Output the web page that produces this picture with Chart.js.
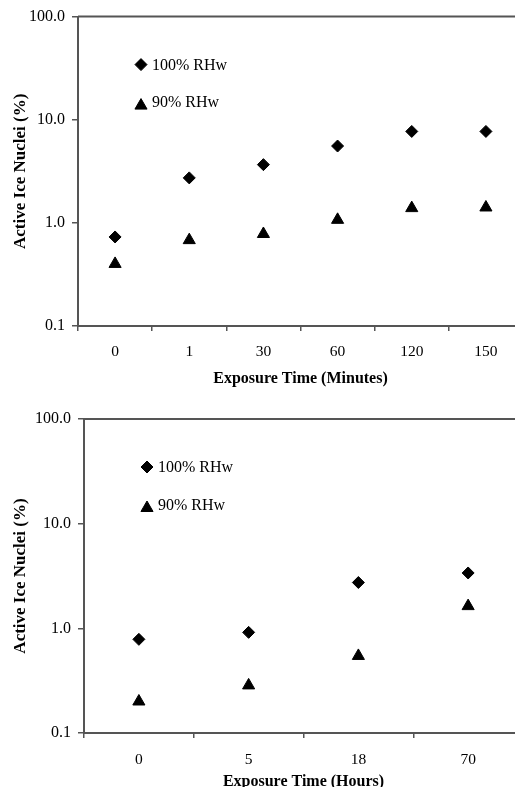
<!DOCTYPE html>
<html>
<head>
<meta charset="utf-8">
<script src="https://cdn.jsdelivr.net/npm/chart.js@4/dist/chart.umd.min.js"></script>
<style>
  html, body { margin: 0; padding: 0; background: #fff; overflow: hidden; width: 515px; height: 787px; }
  .box { position: absolute; left: 0; width: 523px; height: 395px; }
  canvas { display: block; }
</style>
</head>
<body>
<div class="box" style="top:0"><canvas id="minChart" width="523" height="395" style="width:523px;height:395px"></canvas></div>
<div class="box" style="top:400px"><canvas id="hourChart" width="523" height="395" style="width:523px;height:395px"></canvas></div>
<script>
// Data
var minuteLabels = ['0', '1', '30', '60', '120', '150'];
var minute100    = [0.73, 2.73, 3.67, 5.56, 7.7, 7.7];
var minute90     = [0.40, 0.68, 0.78, 1.07, 1.39, 1.41];

var hourLabels = ['0', '5', '18', '70'];
var hour100    = [0.785, 0.915, 2.74, 3.38];
var hour90     = [0.20, 0.285, 0.545, 1.63];

var seriesNames = ['100% RHw', '90% RHw'];
var yTicks      = [0.1, 1, 10, 100];

var FONT = "'Liberation Serif', 'Times New Roman', serif";
var axisColor = '#555';

// ── frame (top/right edge) + in-plot legend ───────
var framePlugin = {
  id: 'frame',
  afterDraw: function(chart) {
    var ctx = chart.ctx, a = chart.chartArea;
    ctx.save();
    ctx.strokeStyle = axisColor;
    ctx.lineWidth = 2;
    ctx.beginPath();
    ctx.moveTo(a.left, a.top);
    ctx.lineTo(a.right, a.top);
    ctx.lineTo(a.right, a.bottom);
    ctx.stroke();

    var rows = [{ dy: 48, tdy: 1 }, { dy: 89, tdy: -2.5 }];
    chart.data.datasets.forEach(function(ds, i) {
      var x = a.left + 63, y = a.top + rows[i].dy;
      ctx.fillStyle = '#000';
      ctx.strokeStyle = '#000';
      ctx.lineWidth = 1;
      Chart.helpers.drawPoint(ctx, {
        pointStyle: ds.pointStyle, radius: ds.pointRadius, rotation: 0, borderWidth: 1
      }, x, y);
      ctx.font = '16px ' + FONT;
      ctx.textBaseline = 'middle';
      ctx.textAlign = 'left';
      ctx.fillText(ds.label, x + 11, y + rows[i].tdy);
    });
    ctx.restore();
  }
};

function makeChart(id, labels, s100, s90, xTitle, yWidth, xHeight, padTop, tickPad, titlePad) {
  return new Chart(document.getElementById(id), {
    type: 'line',
    data: {
      labels: labels,
      datasets: [{
        label: seriesNames[0],
        data: s100,
        showLine: false,
        pointStyle: 'rectRot',
        pointRadius: 6,
        pointBackgroundColor: '#000',
        pointBorderColor: '#000',
        pointBorderWidth: 1
      }, {
        label: seriesNames[1],
        data: s90,
        showLine: false,
        pointStyle: 'triangle',
        pointRadius: 7,
        pointBackgroundColor: '#000',
        pointBorderColor: '#000',
        pointBorderWidth: 1
      }]
    },
    options: {
      responsive: false,
      animation: false,
      layout: { autoPadding: false, padding: { top: padTop, right: 0, bottom: 0, left: 0 } },
      plugins: {
        legend: { display: false },
        tooltip: { enabled: false }
      },
      scales: {
        x: {
          type: 'category',
          offset: true,
          afterFit: function(s) { s.height = xHeight; },
          grid: { offset: true, drawOnChartArea: false, drawTicks: true, tickLength: 5, color: axisColor, lineWidth: 1.5 },
          border: { color: axisColor, width: 2 },
          ticks: { color: '#000', font: { family: FONT, size: 15.5 }, padding: tickPad, maxRotation: 0, autoSkip: false },
          title: { display: true, text: xTitle, color: '#000', font: { family: FONT, size: 16, weight: 'bold' }, padding: { top: 0, bottom: titlePad } }
        },
        y: {
          type: 'logarithmic',
          min: 0.1,
          max: 100,
          afterFit: function(s) { s.width = yWidth; },
          afterBuildTicks: function(s) {
            s.ticks = yTicks.map(function(v) { return { value: v, major: true }; });
          },
          grid: { drawOnChartArea: false, drawTicks: true, tickLength: 6, color: axisColor, lineWidth: 1.5 },
          border: { color: axisColor, width: 2 },
          ticks: {
            color: '#000',
            font: { family: FONT, size: 16 },
            padding: 7,
            callback: function(v) { return Number(v).toFixed(1); }
          },
          title: { display: true, text: 'Active Ice Nuclei (%)', color: '#000', font: { family: FONT, size: 17, weight: 'bold' }, padding: { top: 10, bottom: 0 } }
        }
      }
    },
    plugins: [framePlugin]
  });
}

makeChart('minChart', minuteLabels, minute100, minute90, 'Exposure Time (Minutes)', 78, 69, 16, 12, 7);
makeChart('hourChart', hourLabels, hour100, hour90, 'Exposure Time (Hours)', 84, 62, 19, 13, 4);
</script>
</body>
</html>
